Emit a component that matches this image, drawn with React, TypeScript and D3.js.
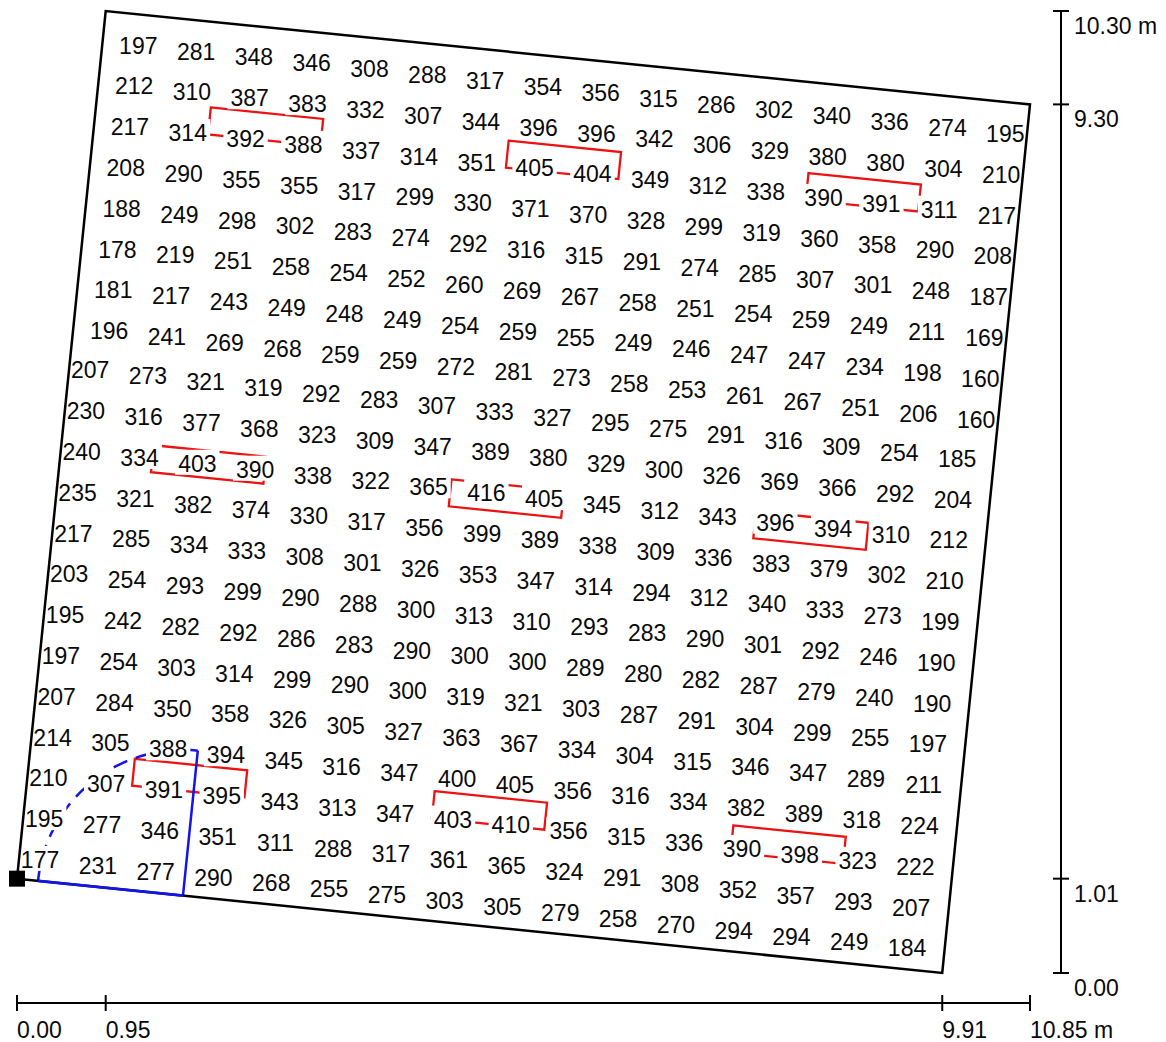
import React, { useEffect, useRef } from 'react';
import * as d3 from 'd3';

// room outline corners (m), counter-clockwise from the origin corner
const cornerX = [0, 9.91, 10.85, 0.95];
const cornerY = [1.01, 0, 9.3, 10.3];
const xTicks = [0, 0.95, 9.91, 10.85];
const yTicks = [0, 1.01, 9.3, 10.3];

// illuminance grid (lx), top row first
const row01 = [197, 281, 348, 346, 308, 288, 317, 354, 356, 315, 286, 302, 340, 336, 274, 195];
const row02 = [212, 310, 387, 383, 332, 307, 344, 396, 396, 342, 306, 329, 380, 380, 304, 210];
const row03 = [217, 314, 392, 388, 337, 314, 351, 405, 404, 349, 312, 338, 390, 391, 311, 217];
const row04 = [208, 290, 355, 355, 317, 299, 330, 371, 370, 328, 299, 319, 360, 358, 290, 208];
const row05 = [188, 249, 298, 302, 283, 274, 292, 316, 315, 291, 274, 285, 307, 301, 248, 187];
const row06 = [178, 219, 251, 258, 254, 252, 260, 269, 267, 258, 251, 254, 259, 249, 211, 169];
const row07 = [181, 217, 243, 249, 248, 249, 254, 259, 255, 249, 246, 247, 247, 234, 198, 160];
const row08 = [196, 241, 269, 268, 259, 259, 272, 281, 273, 258, 253, 261, 267, 251, 206, 160];
const row09 = [207, 273, 321, 319, 292, 283, 307, 333, 327, 295, 275, 291, 316, 309, 254, 185];
const row10 = [230, 316, 377, 368, 323, 309, 347, 389, 380, 329, 300, 326, 369, 366, 292, 204];
const row11 = [240, 334, 403, 390, 338, 322, 365, 416, 405, 345, 312, 343, 396, 394, 310, 212];
const row12 = [235, 321, 382, 374, 330, 317, 356, 399, 389, 338, 309, 336, 383, 379, 302, 210];
const row13 = [217, 285, 334, 333, 308, 301, 326, 353, 347, 314, 294, 312, 340, 333, 273, 199];
const row14 = [203, 254, 293, 299, 290, 288, 300, 313, 310, 293, 283, 290, 301, 292, 246, 190];
const row15 = [195, 242, 282, 292, 286, 283, 290, 300, 300, 289, 280, 282, 287, 279, 240, 190];
const row16 = [197, 254, 303, 314, 299, 290, 300, 319, 321, 303, 287, 291, 304, 299, 255, 197];
const row17 = [207, 284, 350, 358, 326, 305, 327, 363, 367, 334, 304, 315, 346, 347, 289, 211];
const row18 = [214, 305, 388, 394, 345, 316, 347, 400, 405, 356, 316, 334, 382, 389, 318, 224];
const row19 = [210, 307, 391, 395, 343, 313, 347, 403, 410, 356, 315, 336, 390, 398, 323, 222];
const row20 = [195, 277, 346, 351, 311, 288, 317, 361, 365, 324, 291, 308, 352, 357, 293, 207];
const row21 = [177, 231, 277, 290, 268, 255, 275, 303, 305, 279, 258, 270, 294, 294, 249, 184];

// luminaire centres in room coordinates (m along wall, m into room)
const lumU = [1.83, 5.04, 8.27, 1.59, 4.8, 8.08, 1.73, 4.96, 8.18];
const lumV = [8.28, 8.25, 8.23, 4.62, 4.58, 4.57, 1.26, 1.24, 1.2];

// door on the origin wall (m along wall)
const doorStart = 0.227;
const doorHinge = 1.787;

const rows = [row01, row02, row03, row04, row05, row06, row07, row08, row09, row10, row11,
  row12, row13, row14, row15, row16, row17, row18, row19, row20, row21];

const W = 1166;
const H = 1042;
const FONT = '"Liberation Sans", Arial, Helvetica, sans-serif';

const App = () => {
  const svgRef = useRef(null);

  useEffect(() => {
    const svg = d3.select(svgRef.current);
    svg.selectAll('*').remove();

    const x = d3.scaleLinear().domain([0, 10.85]).range([17, 1030]);
    const y = d3.scaleLinear().domain([0, 10.3]).range([973, 11]);

    // room frame: u along bottom wall, v along left wall
    const ex = cornerX[1] - cornerX[0], ey = cornerY[1] - cornerY[0];
    const el = Math.hypot(ex, ey);
    const ux = ex / el, uy = ey / el;
    const fx = cornerX[3] - cornerX[0], fy = cornerY[3] - cornerY[0];
    const fl = Math.hypot(fx, fy);
    const vx = fx / fl, vy = fy / fl;
    const toPx = (u, v) => [x(cornerX[0] + u * ux + v * vx), y(cornerY[0] + u * uy + v * vy)];

    const line = d3.line();

    // luminaires
    const lumL = 1.21, lumW = 0.29;
    lumU.forEach((cu, i) => {
      const cv = lumV[i];
      const pts = [
        [cu - lumL / 2, cv + lumW / 2], [cu + lumL / 2, cv + lumW / 2],
        [cu + lumL / 2, cv - lumW / 2], [cu - lumL / 2, cv - lumW / 2]
      ].map(p => toPx(p[0], p[1]));
      svg.append('path')
        .attr('d', line(pts) + 'Z')
        .attr('fill', 'none')
        .attr('stroke', '#ee1111')
        .attr('stroke-width', 2.3);
    });

    // door leaf and swing
    const r = doorHinge - doorStart;
    const blue = '#1414e8';
    svg.append('path')
      .attr('d', line([toPx(doorHinge, 0), toPx(doorHinge, r)]))
      .attr('stroke', blue).attr('stroke-width', 2.5).attr('fill', 'none');
    const arc = d3.range(0, 61).map(k => {
      const a = Math.PI / 2 + (k / 60) * Math.PI / 2;
      return toPx(doorHinge + r * Math.cos(a), r * Math.sin(a));
    });
    svg.append('path')
      .attr('d', line(arc))
      .attr('stroke', blue).attr('stroke-width', 2.5).attr('fill', 'none')
      .attr('stroke-dasharray', '15 9');

    // value labels, each on a white box that masks the lines beneath
    const du = 0.6223, dv = 0.439, v0 = 0.225;
    const uLower = 0.225, uUpper = 0.385, upperRows = 8;
    const lab = svg.append('g')
      .style('font-family', FONT)
      .style('font-size', '23px');
    rows.forEach((row, ri) => {
      const vi = rows.length - 1 - ri;
      const u0 = ri < upperRows ? uUpper : uLower;
      row.forEach((val, ci) => {
        const [px, py] = toPx(u0 + ci * du, v0 + vi * dv);
        const g = lab.append('g');
        const t = g.append('text')
          .attr('x', px)
          .attr('y', py + 8)
          .attr('text-anchor', 'middle')
          .attr('fill', '#0a0a0a')
          .text(val);
        const bb = t.node().getBBox();
        g.insert('rect', 'text')
          .attr('x', bb.x - 3)
          .attr('y', bb.y - 1)
          .attr('width', bb.width + 6)
          .attr('height', bb.height - 1)
          .attr('fill', '#fff');
      });
    });

    // room outline
    const room = cornerX.map((cx, i) => [x(cx), y(cornerY[i])]);
    svg.append('path')
      .attr('d', line(room) + 'Z')
      .attr('fill', 'none')
      .attr('stroke', '#000')
      .attr('stroke-width', 2.5)
      .attr('stroke-linejoin', 'miter');

    // door opening on the wall
    svg.append('path')
      .attr('d', line([toPx(doorStart, 0), toPx(doorHinge, 0)]))
      .attr('stroke', blue).attr('stroke-width', 2.8).attr('fill', 'none');

    // origin marker
    svg.append('rect')
      .attr('x', x(0) - 8).attr('y', y(1.01) - 8)
      .attr('width', 16).attr('height', 16)
      .attr('fill', '#000');

    // bottom dimension axis
    const axY = 1003;
    const ax = svg.append('g').style('font-family', FONT).style('font-size', '23px');
    ax.append('line')
      .attr('x1', x(0)).attr('x2', x(10.85)).attr('y1', axY).attr('y2', axY)
      .attr('stroke', '#000').attr('stroke-width', 2);
    xTicks.forEach((t, i) => {
      ax.append('line')
        .attr('x1', x(t)).attr('x2', x(t)).attr('y1', axY - 8).attr('y2', axY + 8)
        .attr('stroke', '#000').attr('stroke-width', 2);
      ax.append('text')
        .attr('x', x(t)).attr('y', axY + 35)
        .attr('fill', '#0a0a0a')
        .text(d3.format('.2f')(t) + (i === xTicks.length - 1 ? ' m' : ''));
    });

    // right dimension axis
    const axX = 1061;
    ax.append('line')
      .attr('x1', axX).attr('x2', axX).attr('y1', y(0)).attr('y2', y(10.3))
      .attr('stroke', '#000').attr('stroke-width', 2);
    yTicks.forEach((t, i) => {
      ax.append('line')
        .attr('x1', axX - 8).attr('x2', axX + 8).attr('y1', y(t)).attr('y2', y(t))
        .attr('stroke', '#000').attr('stroke-width', 2);
      ax.append('text')
        .attr('x', axX + 13).attr('y', y(t) + 23)
        .attr('fill', '#0a0a0a')
        .text(d3.format('.2f')(t) + (i === yTicks.length - 1 ? ' m' : ''));
    });
  }, []);

  return (
    <svg
      ref={svgRef}
      width={W}
      height={H}
      style={{ position: 'absolute', left: 0, top: 0, background: '#fff' }}
    />
  );
};

export default App;
